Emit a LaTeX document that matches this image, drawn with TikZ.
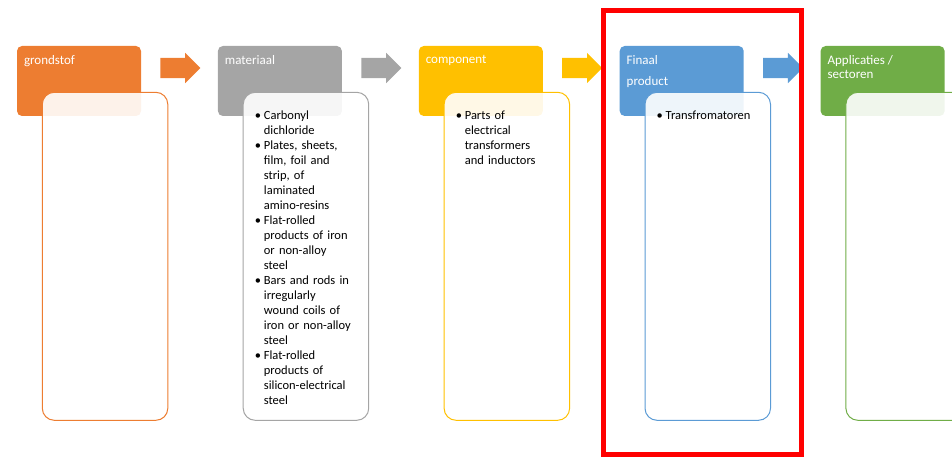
\documentclass[tikz,border=0pt]{standalone}
\usepackage{fontspec}
\setmainfont{Carlito}
\usetikzlibrary{positioning}
\usetikzlibrary{calc}
\usetikzlibrary{shapes.arrows}
\definecolor{kleurOranje}{RGB}{237,125,49}
\definecolor{kleurGrijs}{RGB}{165,165,165}
\definecolor{kleurGoud}{RGB}{255,192,0}
\definecolor{kleurBlauw}{RGB}{91,155,213}
\definecolor{kleurGroen}{RGB}{112,173,71}
\definecolor{kleurRood}{RGB}{255,0,0}
\newcommand{\punt}[1]{\par\hangindent=9pt\hangafter=1\noindent\makebox[9pt][l]{\textbullet}{\let\\\newline #1}\par}
\tikzset{
  kop/.style={
    rectangle, rounded corners=5pt, draw=none,
    minimum width=124pt, minimum height=70pt, inner sep=0pt
  },
  koptekst/.style={
    anchor=north west, inner sep=0pt, xshift=7pt, yshift=-9pt,
    text=white, align=left, font=\fontsize{13}{14}\selectfont
  },
  detail/.style={
    rectangle, rounded corners=12pt, line width=1pt, fill=white,
    fill opacity=0.9, minimum width=125.5pt, minimum height=328pt,
    anchor=north west, inner sep=0pt
  },
  lijst/.style={
    anchor=north west, inner sep=0pt, text width=112pt, align=left,
    text=black, font=\fontsize{12.5}{15}\selectfont
  },
  pijl/.style={
    single arrow, draw=none, inner xsep=0pt, inner ysep=10pt,
    minimum height=40pt, minimum width=30pt, single arrow head extend=5pt,
    anchor=tail
  },
  kader/.style={draw=kleurRood, line width=5pt}
}
\begin{document}
\begin{tikzpicture}[x=1pt, y=1pt, node distance=76.5pt]
  \useasboundingbox (0,0) rectangle (952,456);
  \node[kop, fill=kleurOranje, label={[koptekst]north west:grondstof}] (grond) at (79,375) {};
  \node[kop, fill=kleurGrijs, right=of grond, label={[koptekst]north west:materiaal}] (mat) {};
  \node[kop, fill=kleurGoud, right=of mat, label={[koptekst]north west:component}] (comp) {};
  \node[kop, fill=kleurBlauw, right=of comp, label={[koptekst]north west:Finaal\\[7pt]product}] (fin) {};
  \node[kop, fill=kleurGroen, right=of fin, label={[koptekst]north west:Applicaties /\\sectoren}] (app) {};

  \node[pijl, fill=kleurOranje] (pijl1) at ($(grond.east)+(19,13)$) {};
  \node[pijl, fill=kleurGrijs] (pijl2) at ($(mat.east)+(19,13)$) {};
  \node[pijl, fill=kleurGoud] (pijl3) at ($(comp.east)+(19,13)$) {};
  \node[pijl, fill=kleurBlauw] (pijl4) at ($(fin.east)+(19,13)$) {};

  \node[detail, draw=kleurOranje] (grond-det) at ($(grond.north west)+(25,-46)$) {};
  \node[detail, draw=kleurGrijs] (mat-det) at ($(mat.north west)+(25,-46)$) {};
  \node[detail, draw=kleurGoud] (comp-det) at ($(comp.north west)+(25,-46)$) {};
  \node[detail, draw=kleurBlauw] (fin-det) at ($(fin.north west)+(25,-46)$) {};
  \node[detail, draw=kleurGroen] (app-det) at ($(app.north west)+(25,-46)$) {};

  \node[lijst] (mat-lst) at ($(mat-det.north west)+(12,-12)$) {%
    \punt{Carbonyl\\dichloride}
    \punt{Plates, sheets,\\film, foil and\\strip, of\\laminated\\amino-resins}
    \punt{Flat-rolled\\products of iron\\or non-alloy\\steel}
    \punt{Bars and rods in\\irregularly\\wound coils of\\iron or non-alloy\\steel}
    \punt{Flat-rolled\\products of\\silicon-electrical\\steel}};
  \node[lijst] (comp-lst) at ($(comp-det.north west)+(12,-12)$) {%
    \punt{Parts of\\electrical\\transformers\\and inductors}};
  \node[lijst] (fin-lst) at ($(fin-det.north west)+(12,-12)$) {%
    \punt{Transfromatoren}};

  \draw[kader] ($(fin.north west)+(-16,35.5)$) rectangle ($(fin-det.south east)+(30,-33.5)$);
\end{tikzpicture}
\end{document}
